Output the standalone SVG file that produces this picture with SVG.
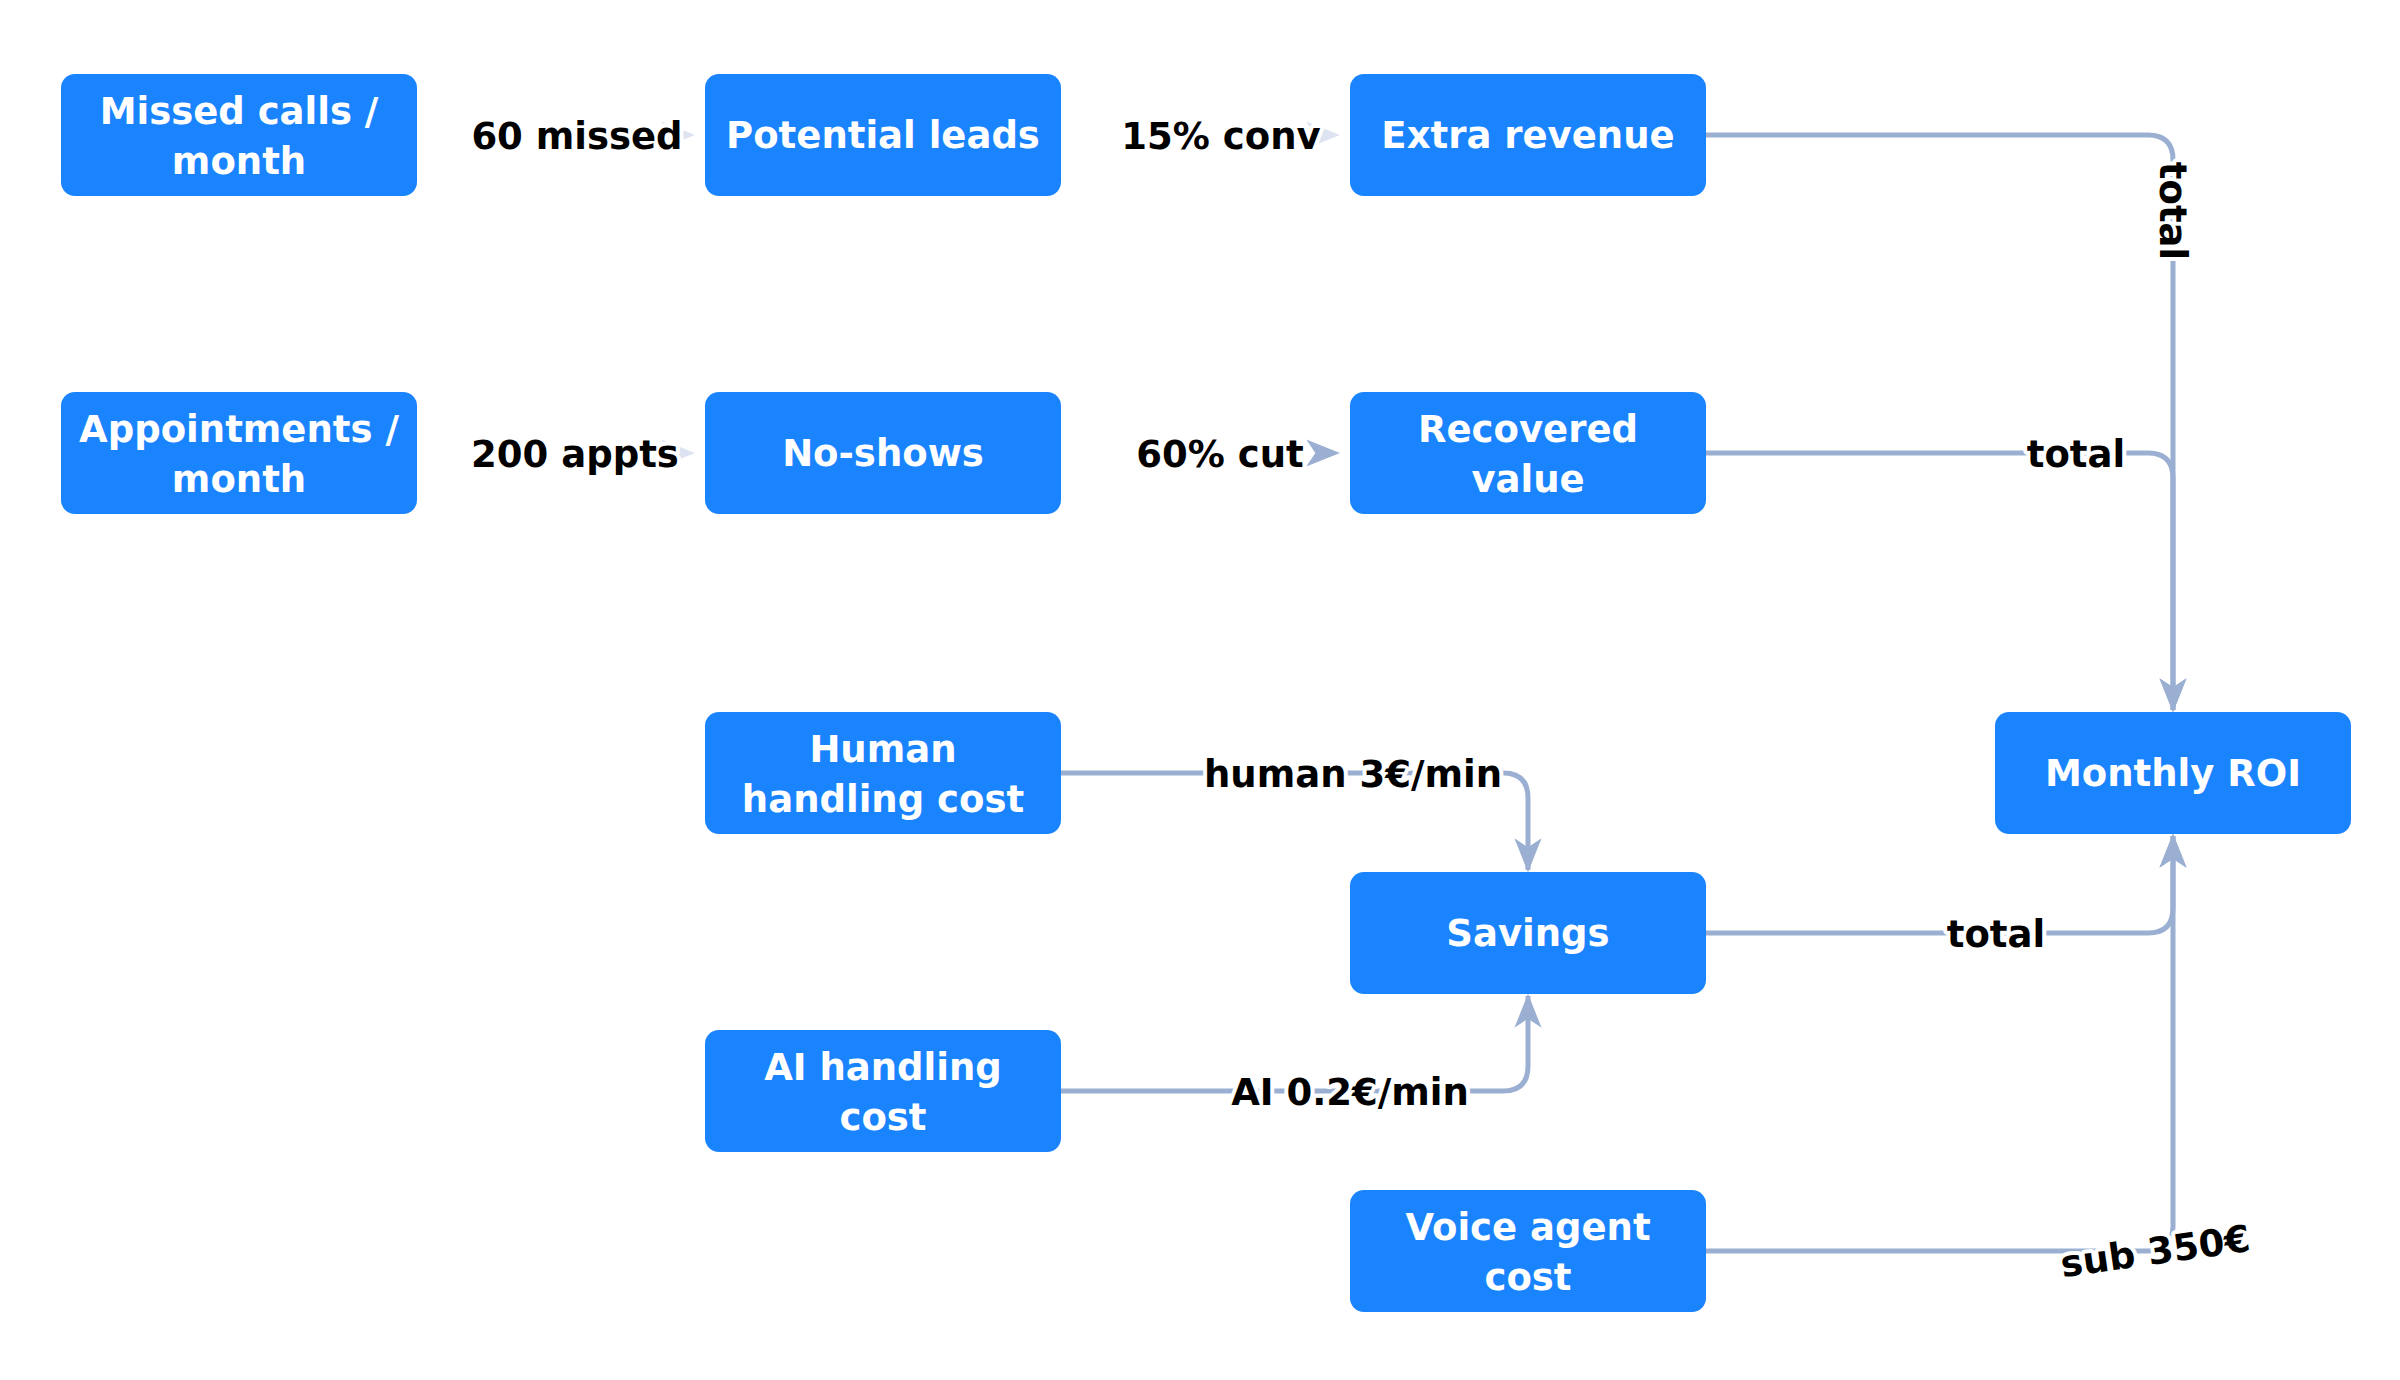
<svg xmlns="http://www.w3.org/2000/svg" width="2400" height="1380" viewBox="0 0 2400 1380">
<style>
.n rect{fill:#1a84ff;}
.n text{fill:#fff;font-family:"DejaVu Sans",sans-serif;font-weight:bold;font-size:37px;text-anchor:middle;}
.e{fill:none;stroke:#9aafd1;stroke-width:5;}
.l{fill:#000;font-family:"DejaVu Sans",sans-serif;font-weight:bold;font-size:37px;text-anchor:middle;stroke:#fff;stroke-width:8;paint-order:stroke;stroke-linejoin:round;}
</style>
<defs>
<marker id="a" viewBox="0 0 30 30" markerWidth="34" markerHeight="34" refX="28" refY="15" orient="auto" markerUnits="userSpaceOnUse"><path d="M0,3 L30,15 L0,27 L8,15 Z" fill="#9aafd1"/></marker>
<marker id="b" viewBox="0 0 30 30" markerWidth="34" markerHeight="34" refX="28" refY="15" orient="auto" markerUnits="userSpaceOnUse"><path d="M0,3 L30,15 L0,27 L8,15 Z" fill="#dde3f0"/></marker>
<linearGradient id="g" x1="0" x2="1" y1="0" y2="0"><stop offset="0" stop-color="#9aafd1"/><stop offset="0.3" stop-color="#dde3f0"/><stop offset="1" stop-color="#dde3f0"/></linearGradient>
</defs>
<rect width="2400" height="1380" fill="#fff"/>
<g id="connectors">
<path class="e" d="M417,135 H693" stroke="url(#g)" style="stroke:url(#g)" marker-end="url(#b)"/>
<path class="e" d="M1061,135 H1338" style="stroke:url(#g)" marker-end="url(#b)"/>
<path class="e" d="M417,453 H693" style="stroke:url(#g)" marker-end="url(#b)"/>
<path class="e" d="M1061,453 H1338" style="stroke:url(#g)" marker-end="url(#a)"/>
<path class="e" d="M1706,135 H2148 Q2173,135 2173,160 V710" marker-end="url(#a)"/>
<path class="e" d="M1706,453 H2148 Q2173,453 2173,478 V710" marker-end="url(#a)"/>
<path class="e" d="M1706,933 H2148 Q2173,933 2173,908 V836" marker-end="url(#a)"/>
<path class="e" d="M1706,1251 H2148 Q2173,1251 2173,1226 V836" marker-end="url(#a)"/>
<path class="e" d="M1061,773 H1503 Q1528,773 1528,798 V870" marker-end="url(#a)"/>
<path class="e" d="M1061,1091 H1503 Q1528,1091 1528,1066 V996" marker-end="url(#a)"/>
<text class="l" x="577" y="149">60 missed</text>
<text class="l" x="1221" y="149">15% conv</text>
<text class="l" x="575" y="467">200 appts</text>
<text class="l" x="1220" y="467">60% cut</text>
<text class="l" transform="translate(2160,211) rotate(90)">total</text>
<text class="l" x="2076" y="467">total</text>
<text class="l" x="1996" y="947">total</text>
<text class="l" x="1353" y="787">human 3€/min</text>
<text class="l" x="1350" y="1105">AI 0.2€/min</text>
<text class="l" transform="translate(2157,1264) rotate(-8)">sub 350€</text>
</g>
<g id="n1" class="n"><rect x="61" y="74" width="356" height="122" rx="14"/><text x="239" y="124">Missed calls /</text><text x="239" y="174">month</text></g>
<g id="n2" class="n"><rect x="705" y="74" width="356" height="122" rx="14"/><text x="883" y="148">Potential leads</text></g>
<g id="n3" class="n"><rect x="1350" y="74" width="356" height="122" rx="14"/><text x="1528" y="148">Extra revenue</text></g>
<g id="n4" class="n"><rect x="61" y="392" width="356" height="122" rx="14"/><text x="239" y="442">Appointments /</text><text x="239" y="492">month</text></g>
<g id="n5" class="n"><rect x="705" y="392" width="356" height="122" rx="14"/><text x="883" y="466">No-shows</text></g>
<g id="n6" class="n"><rect x="1350" y="392" width="356" height="122" rx="14"/><text x="1528" y="442">Recovered</text><text x="1528" y="492">value</text></g>
<g id="n7" class="n"><rect x="705" y="712" width="356" height="122" rx="14"/><text x="883" y="762">Human</text><text x="883" y="812">handling cost</text></g>
<g id="n8" class="n"><rect x="1995" y="712" width="356" height="122" rx="14"/><text x="2173" y="786">Monthly ROI</text></g>
<g id="n9" class="n"><rect x="1350" y="872" width="356" height="122" rx="14"/><text x="1528" y="946">Savings</text></g>
<g id="n10" class="n"><rect x="705" y="1030" width="356" height="122" rx="14"/><text x="883" y="1080">AI handling</text><text x="883" y="1130">cost</text></g>
<g id="n11" class="n"><rect x="1350" y="1190" width="356" height="122" rx="14"/><text x="1528" y="1240">Voice agent</text><text x="1528" y="1290">cost</text></g>
</svg>
